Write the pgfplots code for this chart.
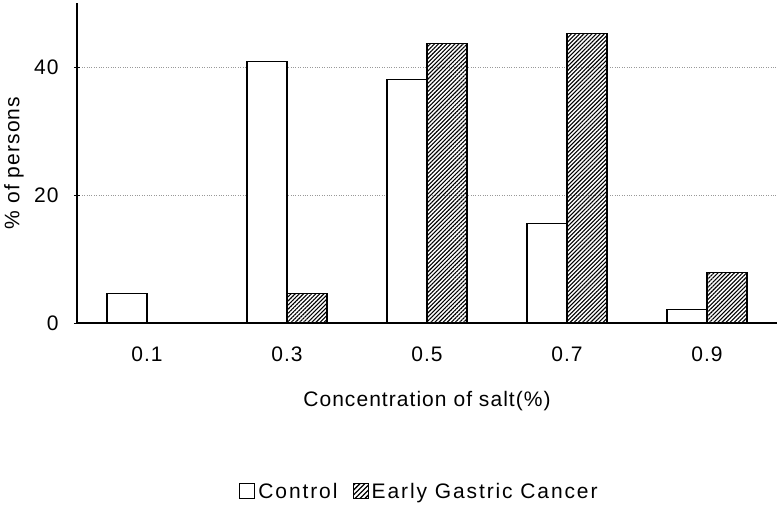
\documentclass[border=0pt]{standalone}
\usepackage{pgfplots}
\pgfplotsset{compat=1.18}
\usepackage{fontspec}
\setmainfont[LetterSpace=5]{Liberation Sans}
\newfontfamily\legfont[LetterSpace=9]{Liberation Sans}
\usetikzlibrary{patterns.meta}
\begin{document}
\begin{tikzpicture}[x=1pt,y=1pt]
\useasboundingbox (0,0) rectangle (780,507);
\begin{axis}[
  at={(77pt,184pt)}, anchor=south west,
  scale only axis, width=700pt, height=320pt,
  xmin=-0.5, xmax=4.5, ymin=0, ymax=50,
  axis x line=bottom, axis y line=left,
  axis line style={-, line width=1.5pt},
  ybar=0pt, bar width=40pt,
  xtick={0,1,2,3,4}, xticklabels={0.1,0.3,0.5,0.7,0.9},
  x tick style={draw=none},
  extra x ticks={0.5,1.5,2.5,3.5,4.5}, extra x tick labels={},
  extra x tick style={tick style={draw=black, line width=1pt}, major tick length=7pt, tick align=inside},
  ytick={0,20,40},
  y tick style={draw=black, line width=1pt}, major tick length=6pt,
  ymajorgrids, grid style={dotted, gray!80, line width=0.8pt},
  /pgf/number format/assume math mode=true,
  tick label style={font=\fontsize{21}{24}\selectfont},
  xticklabel style={yshift=-14pt},
  yticklabel style={xshift=-12pt},
  label style={font=\fontsize{21}{24}\selectfont},
  xlabel={Concentration of salt(\%)},
  x label style={at={(axis description cs:0.5,-0.245)}, anchor=center},
  ylabel={\% of persons},
  y label style={at={(axis description cs:-0.09,0.5)}, anchor=center},
  legend style={at={(axis description cs:0.49,-0.528)}, anchor=center, draw=none,
    font=\legfont\fontsize{21}{24}\selectfont, legend columns=2,
    nodes={inner xsep=3pt},
    /tikz/every even column/.append style={column sep=12pt}},
]
\addplot[draw=black, fill=white, line width=1.2pt,
  legend image code/.code={\draw[black, fill=white, line width=1pt] (0pt,-7pt) rectangle (15pt,8pt);}]
  coordinates {(0,4.6) (1,40.8) (2,38.0) (3,15.6) (4,2.1)};
\addlegendentry{Control}
\addplot[draw=black, line width=1.2pt, pattern={Lines[angle=45, distance=2.9pt, line width=1.1pt]},
  legend image code/.code={\draw[black, line width=1pt, pattern={Lines[angle=45, distance=3.5pt, line width=1.3pt]}] (0pt,-7pt) rectangle (15pt,8pt);}]
  coordinates {(0,0) (1,4.6) (2,43.7) (3,45.2) (4,7.9)};
\addlegendentry{Early Gastric Cancer}
\end{axis}
\end{tikzpicture}
\end{document}
